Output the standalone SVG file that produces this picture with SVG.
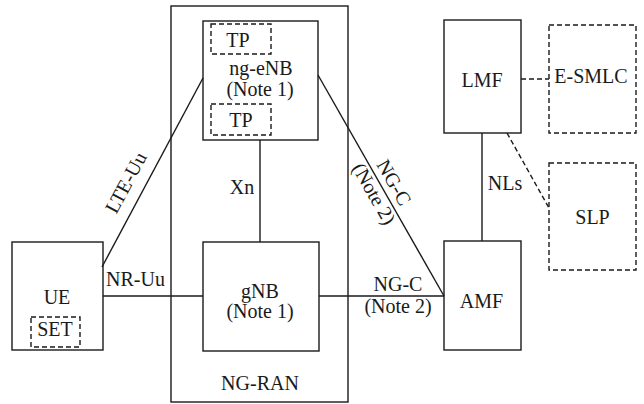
<svg xmlns="http://www.w3.org/2000/svg" width="644" height="404" viewBox="0 0 644 404">
<style>
.b{fill:none;stroke:#1a1a1a;stroke-width:1.4}
.d{fill:none;stroke:#1a1a1a;stroke-width:1.4;stroke-dasharray:5,3}
.l{stroke:#1a1a1a;stroke-width:1.4;fill:none}
.dl{stroke:#1a1a1a;stroke-width:1.4;fill:none;stroke-dasharray:5,3}
text{font-family:"Liberation Serif","Times New Roman",serif;font-size:20px;fill:#1a1a1a;text-anchor:middle}
</style>
<rect width="644" height="404" fill="#fff"/>
<g id="ngran">
<rect class="b" x="171" y="6" width="177" height="396"/>
<text x="260" y="389.5">NG-RAN</text>
</g>
<g id="connectors">
<line class="l" x1="102" y1="267" x2="203" y2="78"/>
<line class="l" x1="103" y1="296" x2="203" y2="296"/>
<line class="l" x1="260" y1="140" x2="260" y2="242"/>
<line class="l" x1="319" y1="296" x2="444" y2="296"/>
<line class="l" x1="318" y1="75" x2="444" y2="296"/>
<line class="l" x1="482" y1="133" x2="482" y2="241"/>
<line class="dl" x1="521" y1="79" x2="549" y2="79"/>
<line class="dl" x1="507" y1="133" x2="549" y2="208"/>
<g transform="translate(142.4,191.4) rotate(-61.9)"><text x="0" y="-12">LTE-Uu</text></g>
<text x="135.5" y="286">NR-Uu</text>
<text x="242" y="194">Xn</text>
<text x="398" y="291">NG-C</text>
<text x="398" y="313">(Note 2)</text>
<g transform="translate(383,188.7) rotate(60.3)"><text x="0" y="-6">NG-C</text><text x="0" y="17">(Note 2)</text></g>
<text x="505" y="189.5">NLs</text>
</g>
<g id="ngenb">
<rect class="b" x="203" y="21" width="115" height="119"/>
<rect class="d" x="211" y="24" width="60" height="30"/>
<text x="238" y="47">TP</text>
<text x="261" y="75">ng-eNB</text>
<text x="260" y="96">(Note 1)</text>
<rect class="d" x="211" y="104" width="60" height="31"/>
<text x="241" y="127">TP</text>
</g>
<g id="gnb">
<rect class="b" x="203" y="242" width="116" height="109"/>
<text x="260" y="297.5">gNB</text>
<text x="260" y="318">(Note 1)</text>
</g>
<g id="ue">
<rect class="b" x="12" y="242" width="91" height="108"/>
<text x="57" y="304">UE</text>
<rect class="d" x="31" y="317" width="49" height="30"/>
<text x="55" y="336">SET</text>
</g>
<g id="amf">
<rect class="b" x="444" y="241" width="77" height="109"/>
<text x="481.5" y="307.5">AMF</text>
</g>
<g id="lmf">
<rect class="b" x="444" y="20" width="77" height="113"/>
<text x="482" y="86.5">LMF</text>
</g>
<g id="esmlc">
<rect class="d" x="549" y="25" width="87" height="108"/>
<text x="591" y="83">E-SMLC</text>
</g>
<g id="slp">
<rect class="d" x="549" y="163" width="87" height="107"/>
<text x="592.5" y="224">SLP</text>
</g>
</svg>
